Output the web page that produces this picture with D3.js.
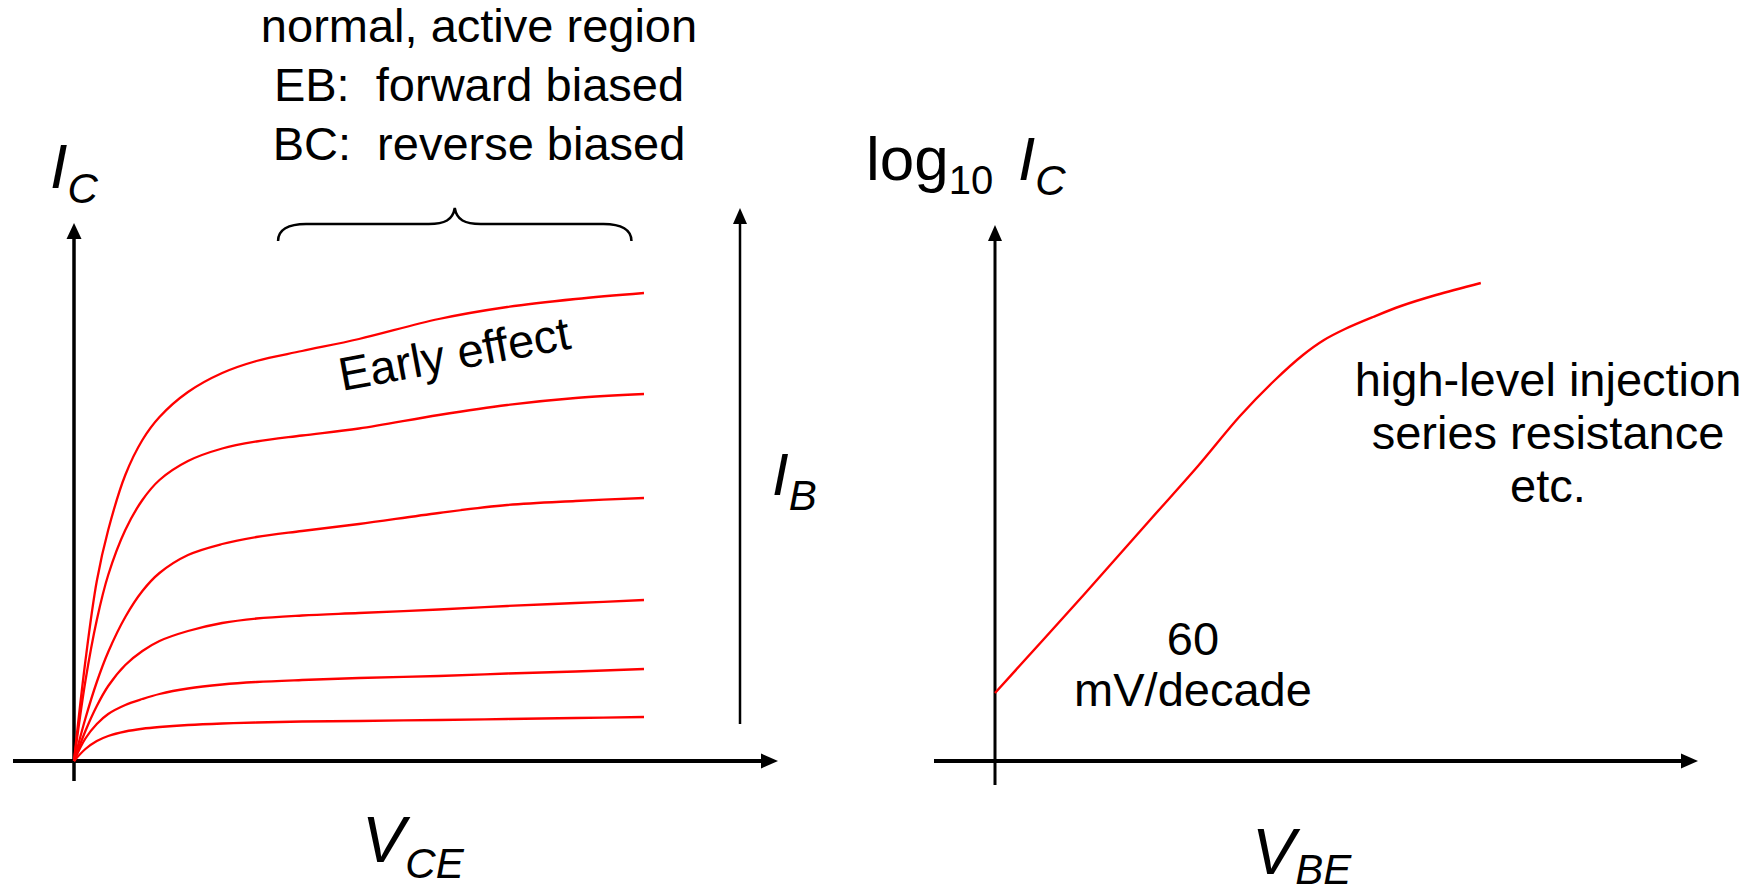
<!DOCTYPE html>
<html>
<head>
<meta charset="utf-8">
<script src="https://cdn.jsdelivr.net/npm/d3@7"></script>
<style>
  body { margin: 0; background: #fff; }
  text { font-family: "Liberation Sans", Arial, sans-serif; fill: #000; }
</style>
</head>
<body>
<script>
// left panel: output characteristics, one curve per base current
const vce = [0, 0.1, 0.2, 0.3, 0.45, 0.6, 0.75, 1.0, 1.3, 1.6, 2.0, 2.5, 3.2, 3.8, 4.4, 5.0];
const ic1 = [0, 2.0, 3.6, 4.62, 5.72, 6.42, 6.88, 7.38, 7.76, 8.00, 8.20, 8.44, 8.84, 9.08, 9.24, 9.36];
const ic2 = [0, 1.6, 2.82, 3.72, 4.62, 5.22, 5.62, 6.00, 6.25, 6.39, 6.51, 6.65, 6.92, 7.12, 7.26, 7.34];
const ic3 = [0, 0.85, 1.58, 2.18, 2.88, 3.40, 3.76, 4.12, 4.34, 4.48, 4.60, 4.74, 4.96, 5.12, 5.20, 5.26];
const ic4 = [0, 0.60, 1.10, 1.50, 1.92, 2.20, 2.40, 2.60, 2.76, 2.85, 2.91, 2.96, 3.03, 3.10, 3.16, 3.22];
const ic5 = [0, 0.45, 0.74, 0.94, 1.12, 1.24, 1.34, 1.45, 1.53, 1.58, 1.62, 1.66, 1.70, 1.75, 1.79, 1.84];
const ic6 = [0, 0.24, 0.40, 0.50, 0.59, 0.645, 0.68, 0.72, 0.75, 0.77, 0.79, 0.80, 0.82, 0.84, 0.86, 0.88];
const icCurves = [ic1, ic2, ic3, ic4, ic5, ic6];

// right panel: log10 Ic against Vbe
const vbe = [0, 0.124, 0.224, 0.29, 0.35, 0.40, 0.44, 0.47, 0.50, 0.54, 0.58, 0.63, 0.694];
const logIc = [1.36, 3.28, 4.86, 5.90, 6.90, 7.62, 8.12, 8.42, 8.64, 8.88, 9.10, 9.32, 9.56];

// span of the active-region brace, in Vce units
const braceSpan = [1.79, 4.89];

const regionLines = ["normal, active region", "EB:  forward biased", "BC:  reverse biased"];
const injectionLines = ["high-level injection", "series resistance", "etc."];
const slopeLines = ["60", "mV/decade"];

const width = 1760;
const height = 896;

const svg = d3.select("body")
  .append("svg")
  .attr("width", width)
  .attr("height", height);

const xL = d3.scaleLinear().domain([0, 5]).range([74, 644]);
const yL = d3.scaleLinear().domain([0, 10]).range([761, 261]);
const xR = d3.scaleLinear().domain([0, 1]).range([995, 1695]);
const yR = d3.scaleLinear().domain([0, 10]).range([761, 261]);

function arrowUp(x, y, w, h) {
  svg.append("path")
    .attr("d", `M${x},${y} L${x - w / 2},${y + h} L${x + w / 2},${y + h} Z`)
    .attr("fill", "#000");
}
function arrowRight(x, y, w, h) {
  svg.append("path")
    .attr("d", `M${x},${y} L${x - h},${y - w / 2} L${x - h},${y + w / 2} Z`)
    .attr("fill", "#000");
}
function line(x1, y1, x2, y2, sw) {
  svg.append("line")
    .attr("x1", x1).attr("y1", y1)
    .attr("x2", x2).attr("y2", y2)
    .attr("stroke", "#000")
    .attr("stroke-width", sw);
}

// left axes
line(xL(0), yL(0) + 20, xL(0), 236, 3.5);
arrowUp(xL(0), 223, 15, 16);
line(13, yL(0), 765, yL(0), 4);
arrowRight(778, yL(0), 15, 17);

// Ib arrow
line(740, 724, 740, 222, 2.5);
arrowUp(740, 208, 14, 16);

// right axes
line(xR(0), yR(0) + 24, xR(0), 238, 3);
arrowUp(xR(0), 225, 14, 16);
line(934, yR(0), 1685, yR(0), 4);
arrowRight(1698, yR(0), 15, 17);

// curves
const lineL = d3.line()
  .x((d, i) => xL(vce[i]))
  .y(d => yL(d))
  .curve(d3.curveCatmullRom.alpha(0.5));

svg.append("g")
  .selectAll("path")
  .data(icCurves)
  .enter()
  .append("path")
  .attr("d", lineL)
  .attr("fill", "none")
  .attr("stroke", "#ff0000")
  .attr("stroke-width", 2.3);

const lineR = d3.line()
  .x((d, i) => xR(vbe[i]))
  .y(d => yR(d))
  .curve(d3.curveCatmullRom.alpha(0.5));

svg.append("path")
  .datum(logIc)
  .attr("d", lineR)
  .attr("fill", "none")
  .attr("stroke", "#ff0000")
  .attr("stroke-width", 2.4);

// brace
const bx0 = xL(braceSpan[0]);
const bx1 = xL(braceSpan[1]);
const bm = (bx0 + bx1) / 2;
const bp = d3.path();
bp.moveTo(bx0, 241);
bp.bezierCurveTo(bx0, 230, bx0 + 10, 224, bx0 + 28, 224);
bp.lineTo(bm - 26, 224);
bp.bezierCurveTo(bm - 10, 224, bm - 2, 220, bm, 208);
bp.bezierCurveTo(bm + 2, 220, bm + 10, 224, bm + 26, 224);
bp.lineTo(bx1 - 28, 224);
bp.bezierCurveTo(bx1 - 10, 224, bx1, 230, bx1, 241);
svg.append("path")
  .attr("d", bp.toString())
  .attr("fill", "none")
  .attr("stroke", "#000")
  .attr("stroke-width", 2.5);

// text blocks
svg.append("g")
  .selectAll("text")
  .data(regionLines)
  .enter()
  .append("text")
  .attr("x", 479)
  .attr("y", (d, i) => 42 + i * 59)
  .attr("text-anchor", "middle")
  .attr("font-size", 47)
  .attr("xml:space", "preserve")
  .style("white-space", "pre")
  .text(d => d);

svg.append("g")
  .selectAll("text")
  .data(injectionLines)
  .enter()
  .append("text")
  .attr("x", 1548)
  .attr("y", (d, i) => 396 + i * 53)
  .attr("text-anchor", "middle")
  .attr("font-size", 47)
  .text(d => d);

svg.append("g")
  .selectAll("text")
  .data(slopeLines)
  .enter()
  .append("text")
  .attr("x", 1193)
  .attr("y", (d, i) => 655 + i * 51)
  .attr("text-anchor", "middle")
  .attr("font-size", 47)
  .text(d => d);

svg.append("text")
  .attr("transform", "translate(342,391) rotate(-10.5)")
  .attr("font-size", 47)
  .text("Early effect");

// axis labels with subscripts
function subLabel(x, y, main, sub, size, subSize, dy, italicMain) {
  const t = svg.append("text").attr("x", x).attr("y", y);
  t.append("tspan")
    .attr("font-size", size)
    .attr("font-style", italicMain ? "italic" : "normal")
    .text(main);
  t.append("tspan")
    .attr("font-size", subSize)
    .attr("font-style", "italic")
    .attr("dy", dy)
    .text(sub);
  return t;
}

subLabel(50, 188, "I", "C", 63, 42, 15, true);
subLabel(362, 862, "V", "CE", 65, 42, 16, true);
subLabel(1252, 874, "V", "BE", 65, 42, 10, true);
subLabel(772, 495, "I", "B", 60, 42, 15, true);

const logLabel = svg.append("text").attr("x", 866).attr("y", 180);
logLabel.append("tspan").attr("font-size", 62).text("log");
logLabel.append("tspan").attr("font-size", 40).attr("dy", 14).text("10");
logLabel.append("tspan").attr("font-size", 62).attr("font-style", "italic")
  .attr("x", 1018).attr("dy", -14).text("I");
logLabel.append("tspan").attr("font-size", 42).attr("font-style", "italic")
  .attr("dy", 15).text("C");
</script>
</body>
</html>
